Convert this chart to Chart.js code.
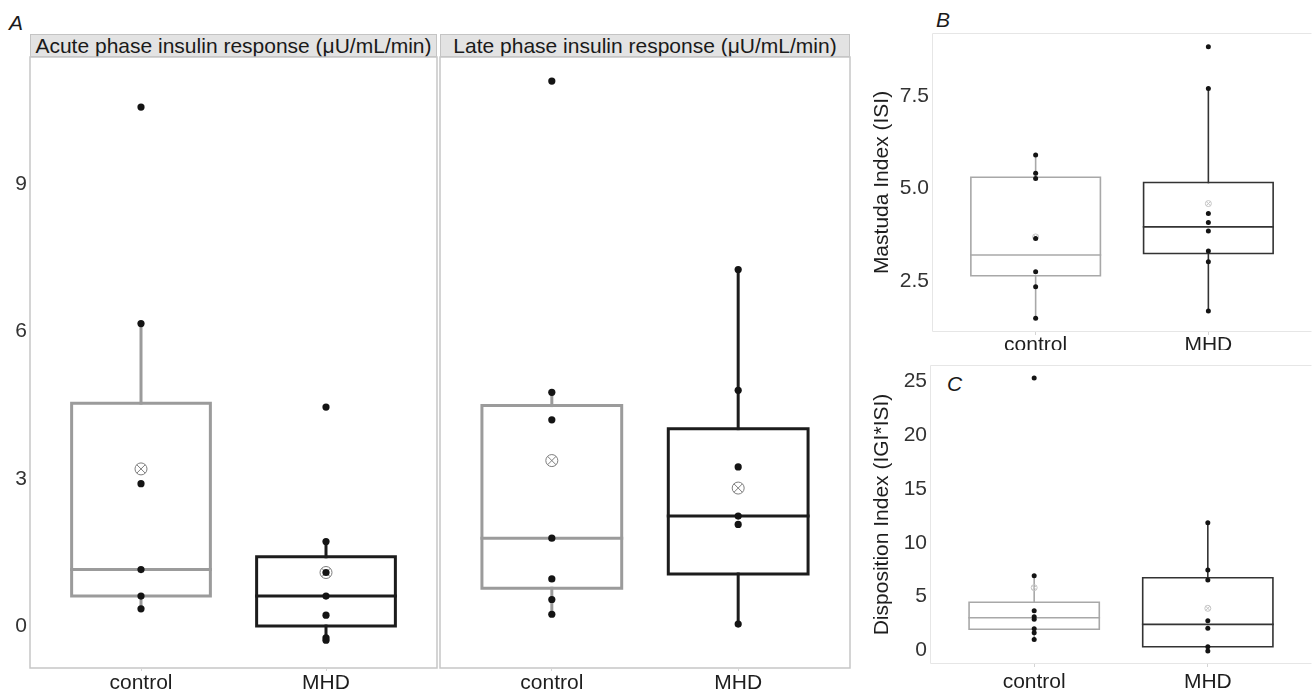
<!DOCTYPE html>
<html>
<head>
<meta charset="utf-8">
<script src="https://cdn.jsdelivr.net/npm/chart.js@4.4.0/dist/chart.umd.min.js"></script>
<style>
  body { margin: 0; width: 1312px; height: 692px; background: #fff; position: relative; overflow: hidden;
         font-family: "Liberation Sans", Arial, Helvetica, sans-serif; }
  canvas { position: absolute; }
  .strip { position: absolute; top: 34px; height: 23px; box-sizing: border-box; background: #e3e3e3;
           border: 1px solid #c4c4c4; font-size: 21px; line-height: 21px; text-align: center;
           color: #1a1a1a; white-space: nowrap; }
  .tag { position: absolute; font-style: italic; font-size: 21px; line-height: 21px; color: #1a1a1a; }
</style>
</head>
<body>
<div class="tag" style="left:9px;top:12px;">A</div>
<div class="tag" style="left:936px;top:9px;">B</div>
<div class="tag" style="left:947px;top:373px;">C</div>
<div class="strip" style="left:30px;width:407px;">Acute phase insulin response (μU/mL/min)</div>
<div class="strip" style="left:440px;width:410px;">Late phase insulin response (μU/mL/min)</div>

<canvas id="acute" width="440" height="642" style="left:0;top:50px;"></canvas>
<canvas id="late" width="416" height="642" style="left:437px;top:50px;"></canvas>
<canvas id="isi" width="452" height="350" style="left:860px;top:0;"></canvas>
<canvas id="di" width="452" height="342" style="left:860px;top:350px;"></canvas>

<script>
// groups on the x axis
const groups = ['control', 'MHD'];

// box stats are [lower whisker, Q1, median, Q3, upper whisker]

// A - acute phase insulin response
const acuteControlPts = [10.57, 6.16, 2.9, 1.15, 0.61, 0.35];
const acuteMhdPts = [4.46, 1.72, 1.09, 0.61, 0.22, -0.24, -0.29];
const acuteControlBox = [0.35, 0.61, 1.15, 4.54, 6.16];
const acuteMhdBox = [-0.29, 0, 0.61, 1.41, 1.72];
const acuteMeans = [3.2, 1.09];

// A - late phase insulin response
const lateControlPts = [11.1, 4.76, 4.2, 1.79, 0.96, 0.54, 0.24];
const lateMhdPts = [7.26, 4.8, 3.24, 2.24, 2.07, 0.04];
const lateControlBox = [0.24, 0.77, 1.79, 4.49, 4.76];
const lateMhdBox = [0.04, 1.06, 2.24, 4.02, 7.26];
const lateMeans = [3.37, 2.81];

// B - Mastuda index
const isiControlPts = [5.9, 5.41, 5.27, 3.65, 2.75, 2.34, 1.49];
const isiMhdPts = [8.83, 7.7, 4.32, 4.08, 3.85, 3.31, 3.02, 1.69];
const isiControlBox = [1.49, 2.64, 3.2, 5.3, 5.9];
const isiMhdBox = [1.69, 3.24, 3.96, 5.16, 7.7];
const isiMeans = [3.69, 4.59];

// C - disposition index
const diControlPts = [25.33, 6.95, 3.69, 3.13, 2.89, 2.01, 1.64, 1.02];
const diMhdPts = [11.88, 7.48, 6.55, 2.76, 2.05, 0.34, -0.07];
const diControlBox = [1.02, 1.96, 3.04, 4.47, 6.95];
const diMhdBox = [-0.07, 0.34, 2.42, 6.76, 11.88];
const diMeans = [5.83, 3.91];

// tick labels
const insulinTicks = [0, 3, 6, 9];
const isiTicks = [2.5, 5.0, 7.5];
const diTicks = [0, 5, 10, 15, 20, 25];

const FONT = '"Liberation Sans", Arial, Helvetica, sans-serif';
Chart.defaults.font.family = FONT;
const BOX_WIDTH = 0.75;

// panel border (R facet style)
const frame = {
  id: 'frame',
  beforeDraw(chart, args, o) {
    const { ctx, chartArea: a } = chart;
    const off = o.width % 2 === 1 ? 0.5 : 0;
    const l = a.left + off, t = a.top + off, r = a.right - off, b = a.bottom - off;
    ctx.save();
    ctx.strokeStyle = o.color;
    ctx.lineWidth = o.width;
    ctx.beginPath();
    ctx.moveTo(r, t); ctx.lineTo(l, t); ctx.lineTo(l, b); ctx.lineTo(r, b);
    if (o.closed) ctx.closePath();
    ctx.stroke();
    ctx.restore();
  }
};

function boxSets(x, box, pts, mean, st) {
  const [lo, q1, med, q3, hi] = box;
  const hw = BOX_WIDTH / 2;
  const line = data => ({
    data, showLine: true, borderColor: st.color, borderWidth: st.lw, pointRadius: 0,
    borderCapStyle: 'square', borderJoinStyle: 'miter', fill: false
  });
  return [
    { data: pts.map(y => ({ x, y })), pointRadius: st.pr, pointBackgroundColor: '#141414',
      pointBorderWidth: 0 },
    { data: [{ x, y: mean }], pointStyle: 'crossRot', pointRadius: st.mr,
      pointBorderColor: st.meanColor, pointBorderWidth: 1 },
    { data: [{ x, y: mean }], pointStyle: 'circle', pointRadius: st.mr,
      pointBorderColor: st.meanColor, pointBackgroundColor: 'rgba(0,0,0,0)', pointBorderWidth: 1 },
    line([{ x: x - hw, y: q1 }, { x: x + hw, y: q1 }, { x: x + hw, y: q3 }, { x: x - hw, y: q3 }, { x: x - hw, y: q1 }]),
    line([{ x: x - hw, y: med }, { x: x + hw, y: med }]),
    line([{ x, y: q3 }, { x, y: hi }]),
    line([{ x, y: lo }, { x, y: q1 }])
  ];
}

function makeChart(id, c) {
  const datasets = [
    ...boxSets(1, c.boxes[0], c.points[0], c.means[0], c.styles[0]),
    ...boxSets(2, c.boxes[1], c.points[1], c.means[1], c.styles[1])
  ];
  return new Chart(document.getElementById(id), {
    type: 'scatter',
    data: { datasets },
    options: {
      responsive: false,
      animation: false,
      events: [],
      // no extra room for point overflow, the plot area is placed by hand
      layout: { padding: c.padding, autoPadding: false },
      plugins: {
        legend: { display: false },
        tooltip: { enabled: false },
        frame: c.frame
      },
      scales: {
        x: {
          type: 'linear', min: 0.4, max: 2.6,
          grid: { display: true, drawOnChartArea: false, drawTicks: true, tickLength: 3, color: '#d4d4d4' },
          border: { display: false },
          afterBuildTicks: a => { a.ticks = groups.map((g, i) => ({ value: i + 1 })); },
          afterFit: a => { a.height = c.xHeight; a.paddingLeft = 0; a.paddingRight = 0; },
          ticks: {
            callback: v => groups[Math.round(v) - 1],
            font: { size: 21 }, color: '#1e1e1e', padding: c.xPad, maxRotation: 0, autoSkip: false
          }
        },
        y: {
          type: 'linear', min: c.yMin, max: c.yMax, display: c.yShow,
          grid: { display: false, drawTicks: false },
          border: { display: false },
          afterBuildTicks: a => { a.ticks = c.ticks.map(v => ({ value: v })); },
          afterFit: a => { a.width = c.yWidth; a.paddingTop = 0; a.paddingBottom = 0; },
          title: { display: !!c.yTitle, text: c.yTitle, font: { size: 21 }, color: '#1e1e1e',
                   padding: { top: 10, bottom: 0 } },
          ticks: { callback: c.fmt, font: { size: 21 }, color: '#333', padding: 3 }
        }
      }
    },
    plugins: [frame]
  });
}

const bigStyles = [
  { color: '#9b9b9b', lw: 3, pr: 3.6, mr: 6, meanColor: '#7d7d7d' },
  { color: '#1c1c1c', lw: 3, pr: 3.6, mr: 6, meanColor: '#7d7d7d' }
];
const smallStyles = [
  { color: '#a8a8a8', lw: 1.6, pr: 2.5, mr: 3, meanColor: '#c4c4c4' },
  { color: '#333333', lw: 1.6, pr: 2.5, mr: 3, meanColor: '#c4c4c4' }
];
const bigFrame = { color: '#c6c6c6', width: 1.5, closed: true };
const smallFrame = { color: '#e6e6e6', width: 1, closed: false };

makeChart('acute', {
  boxes: [acuteControlBox, acuteMhdBox], points: [acuteControlPts, acuteMhdPts], means: acuteMeans,
  styles: bigStyles, frame: bigFrame, padding: { top: 7, right: 3, left: 0, bottom: 0 },
  yMin: -0.855, yMax: 11.59, ticks: insulinTicks, yShow: true, yWidth: 30, xHeight: 24, xPad: -0.5,
  fmt: v => String(v)
});

makeChart('late', {
  boxes: [lateControlBox, lateMhdBox], points: [lateControlPts, lateMhdPts], means: lateMeans,
  styles: bigStyles, frame: bigFrame, padding: { top: 7, right: 3, left: 3, bottom: 0 },
  yMin: -0.855, yMax: 11.59, ticks: insulinTicks, yShow: false, yWidth: 0, xHeight: 24, xPad: -0.5,
  fmt: v => String(v)
});

makeChart('isi', {
  boxes: [isiControlBox, isiMhdBox], points: [isiControlPts, isiMhdPts], means: isiMeans,
  styles: smallStyles, frame: smallFrame, padding: { top: 33, right: 0, left: 0, bottom: 0 },
  yMin: 1.12, yMax: 9.2, ticks: isiTicks, yShow: true, yWidth: 72, xHeight: 18, xPad: -2.5,
  yTitle: 'Mastuda Index (ISI)', fmt: v => v.toFixed(1)
});

makeChart('di', {
  boxes: [diControlBox, diMhdBox], points: [diControlPts, diMhdPts], means: diMeans,
  styles: smallStyles, frame: smallFrame, padding: { top: 15, right: 0, left: 0, bottom: 0 },
  yMin: -1.27, yMax: 26.55, ticks: diTicks, yShow: true, yWidth: 70, xHeight: 28, xPad: 2.5,
  yTitle: 'Disposition Index (IGI*ISI)', fmt: v => String(v)
});
</script>
</body>
</html>
